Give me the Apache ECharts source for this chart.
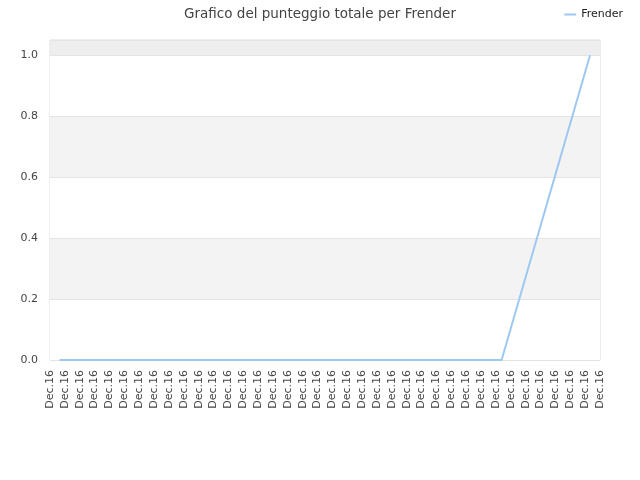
<!DOCTYPE html>
<html>
<head>
<meta charset="utf-8">
<script src="https://cdn.jsdelivr.net/npm/echarts@6/dist/echarts.min.js"></script>
<style>html,body{margin:0;padding:0;background:#fff}#c{width:640px;height:480px}</style>
</head>
<body>
<div id="c"></div>
<script>
const titleText = "Grafico del punteggio totale per Frender";
const seriesName = "Frender";
// x tick labels (38 ticks, all same day)
const xTickLabels = Array(38).fill("Dec.16");
// data point positions along the time axis (in tick units) and their scores
const xVals = [0.64, 6.59, 12.53, 18.49, 24.43, 30.38, 36.33];
const yVals = [0, 0, 0, 0, 0, 0, 1];
const yTicks = [0, 0.2, 0.4, 0.6, 0.8, 1.0];

const font = "DejaVu Sans";
const chart = echarts.init(document.getElementById('c'));
chart.setOption({
  animation: false,
  backgroundColor: '#fff',
  title: {
    text: titleText, left: 'center', top: 2,
    textStyle: {fontFamily: font, fontSize: 13.5, fontWeight: 'normal', color: '#444'}
  },
  legend: {
    right: 12, top: 4, icon: 'rect', itemWidth: 12, itemHeight: 2, itemGap: 5,
    textStyle: {fontFamily: font, fontSize: 11, color: '#222'},
    data: [seriesName]
  },
  grid: {left: 50, right: 40, top: 40, bottom: 120, show: true, borderColor: '#dcdcdc', borderWidth: 1, containLabel: false},
  xAxis: {
    type: 'value', min: 0, max: xTickLabels.length - 1, interval: 1,
    axisLine: {show: false}, axisTick: {show: false}, splitLine: {show: false},
    axisLabel: {
      rotate: 90, margin: 10, fontFamily: font, fontSize: 11, color: '#444',
      formatter: v => xTickLabels[Math.round(v)] || ''
    }
  },
  yAxis: {
    type: 'value', min: 0, max: 1.05, interval: 0.2,
    axisLine: {show: false}, axisTick: {show: false},
    axisLabel: {fontFamily: font, fontSize: 11, color: '#444', margin: 12, showMaxLabel: false,
      formatter: v => yTicks.some(t => Math.abs(t - v) < 1e-9) ? v.toFixed(1) : ''},
    splitLine: {show: true, lineStyle: {color: '#e4e4e4', width: 1}},
    splitArea: {show: true, areaStyle: {color: ['#ffffff', '#f3f3f3', '#ffffff', '#f3f3f3', '#ffffff', '#eeeeee']}}
  },
  series: [{
    name: seriesName, type: 'line', showSymbol: false, symbol: 'none',
    lineStyle: {color: '#9ec8f2', width: 2}, itemStyle: {color: '#9ec8f2'},
    data: xVals.map((x, i) => [x, yVals[i]])
  }]
});
</script>
</body>
</html>
